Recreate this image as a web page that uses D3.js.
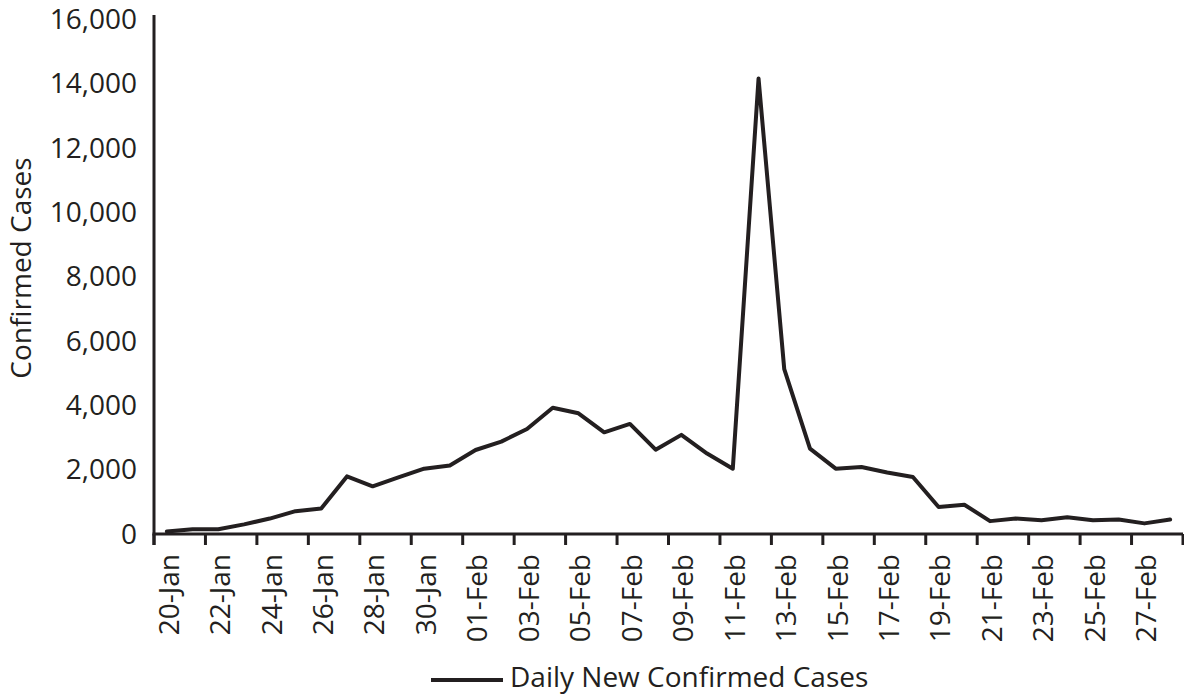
<!DOCTYPE html>
<html>
<head>
<meta charset="utf-8">
<script src="https://cdn.jsdelivr.net/npm/d3@7"></script>
<style>
  body { margin: 0; background: #fff; }
  svg text { font-family: "Open Sans", sans-serif; fill: #231f20; }
</style>
</head>
<body>
<svg id="chart" width="1184" height="696"></svg>
<script>
// data
const dates = [
  "20-Jan","21-Jan","22-Jan","23-Jan","24-Jan","25-Jan","26-Jan","27-Jan","28-Jan","29-Jan",
  "30-Jan","31-Jan","01-Feb","02-Feb","03-Feb","04-Feb","05-Feb","06-Feb","07-Feb","08-Feb",
  "09-Feb","10-Feb","11-Feb","12-Feb","13-Feb","14-Feb","15-Feb","16-Feb","17-Feb","18-Feb",
  "19-Feb","20-Feb","21-Feb","22-Feb","23-Feb","24-Feb","25-Feb","26-Feb","27-Feb","28-Feb"
];
const dailyNew = [
  75, 150, 145, 300, 480, 710, 790, 1790, 1480, 1760,
  2030, 2130, 2610, 2870, 3260, 3920, 3750, 3160, 3420, 2620,
  3080, 2500, 2030, 14150, 5120, 2650, 2030, 2080, 1910, 1770,
  840, 910, 400, 480, 430, 520, 430, 450, 330, 450
];
const yTicks = [0, 2000, 4000, 6000, 8000, 10000, 12000, 14000, 16000];
const seriesName = "Daily New Confirmed Cases";
const yTitle = "Confirmed Cases";

const svg = d3.select("#chart");
const ink = "#231f20";

// plot box
const plotL = 154, plotR = 1183, plotT = 19, plotB = 534;

const x = d3.scaleBand().domain(dates).range([plotL, plotR]).padding(0);
const y = d3.scaleLinear().domain([0, 16000]).range([plotB, plotT]);

// y tick labels
svg.append("g").selectAll("text")
    .data(yTicks)
    .join("text")
    .attr("x", plotL - 17)
    .attr("y", d => y(d))
    .attr("dy", "0.35em")
    .attr("text-anchor", "end")
    .attr("font-size", 28)
    .text(d => d3.format(",")(d));

// y title
svg.append("text")
    .attr("transform", `translate(${31},${268}) rotate(-90)`)
    .attr("text-anchor", "middle")
    .attr("font-size", 28)
    .text(yTitle);

// x tick marks between categories, every other one
const tickPos = dates.filter((d, i) => i % 2 === 0).map(d => x(d)).concat([x.range()[1]]);
svg.append("g").selectAll("line")
    .data(tickPos)
    .join("line")
    .attr("x1", d => d).attr("x2", d => d)
    .attr("y1", plotB).attr("y2", plotB + 11)
    .attr("stroke", ink)
    .attr("stroke-width", 3);

// x labels rotated
svg.append("g").selectAll("text")
    .data(dates.filter((d, i) => i % 2 === 0))
    .join("text")
    .attr("transform", d => `translate(${x(d) + x.bandwidth() / 2 + 2},${plotB + 20}) rotate(-90)`)
    .attr("dy", "0.35em")
    .attr("text-anchor", "end")
    .attr("font-size", 28)
    .text(d => d);

// axes lines
svg.append("line")
    .attr("x1", plotL).attr("x2", plotL)
    .attr("y1", 15).attr("y2", plotB + 11)
    .attr("stroke", ink).attr("stroke-width", 3);
svg.append("line")
    .attr("x1", plotL - 1.5).attr("x2", plotR)
    .attr("y1", plotB).attr("y2", plotB)
    .attr("stroke", ink).attr("stroke-width", 3);

// the series
const line = d3.line()
    .x((d, i) => x(dates[i]) + x.bandwidth() / 2)
    .y(d => y(d));

svg.append("path")
    .datum(dailyNew)
    .attr("d", line)
    .attr("fill", "none")
    .attr("stroke", ink)
    .attr("stroke-width", 4)
    .attr("stroke-linejoin", "round")
    .attr("stroke-linecap", "round");

// legend
const lg = svg.append("g").attr("transform", "translate(431,680)");
lg.append("line")
    .attr("x1", 0).attr("x2", 72)
    .attr("y1", 0).attr("y2", 0)
    .attr("stroke", ink).attr("stroke-width", 4);
lg.append("text")
    .attr("x", 79)
    .attr("y", 7)
    .attr("font-size", 28)
    .text(seriesName);
</script>
</body>
</html>
